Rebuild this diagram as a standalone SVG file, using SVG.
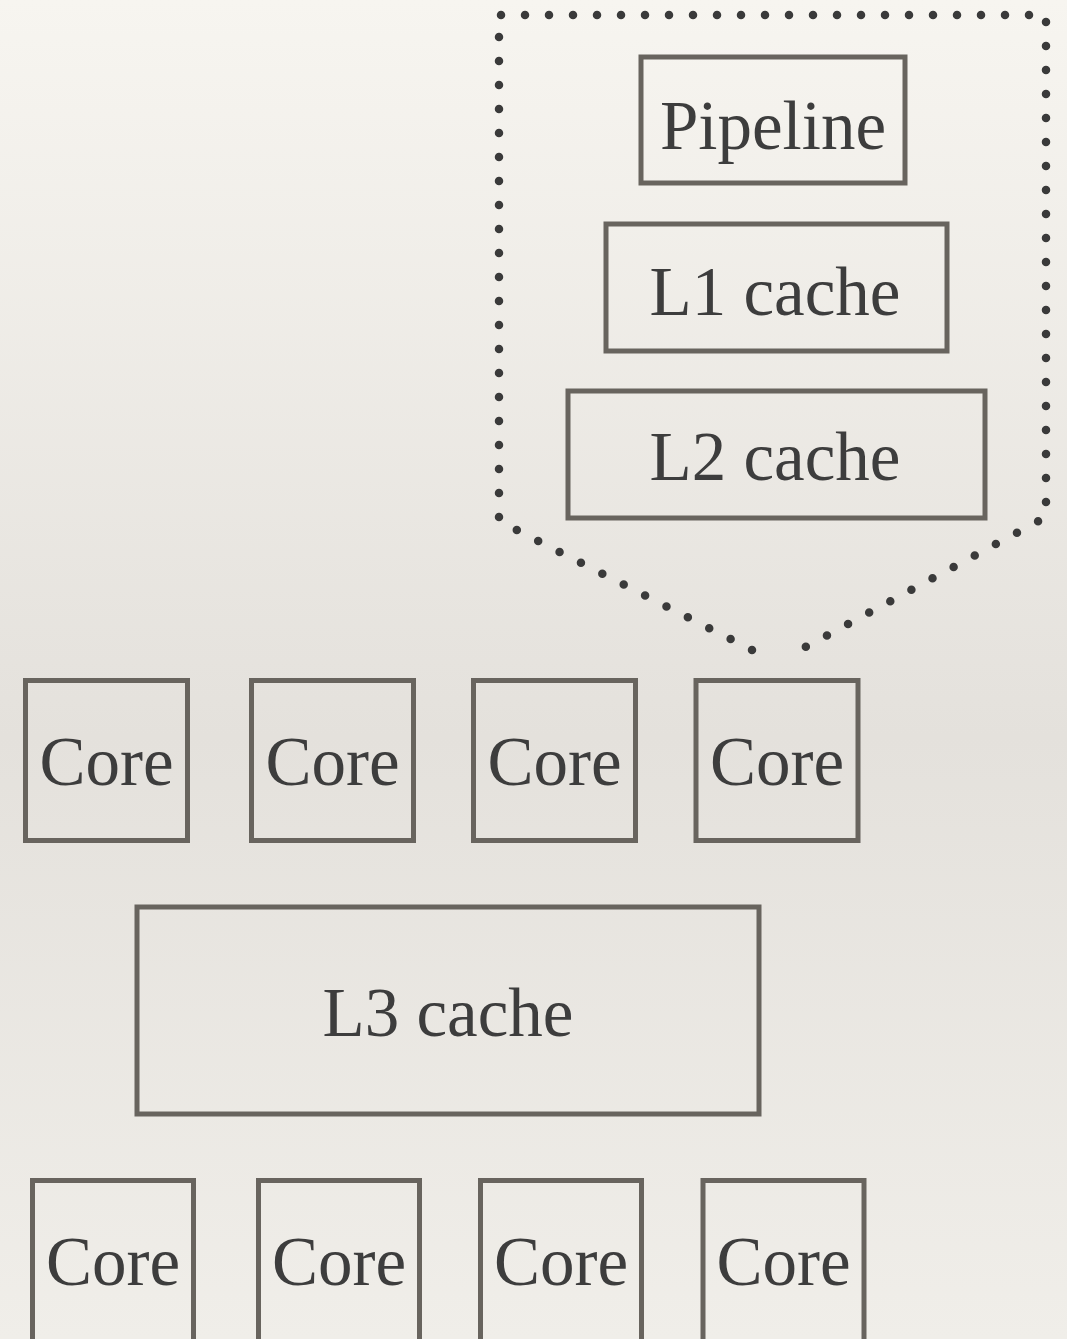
<svg xmlns="http://www.w3.org/2000/svg" width="1067" height="1339" viewBox="0 0 1067 1339">
<defs>
<linearGradient id="bg" x1="0" y1="0" x2="0" y2="1">
<stop offset="0" stop-color="#f7f5f0"/>
<stop offset="0.55" stop-color="#e4e1dc"/>
<stop offset="1" stop-color="#f0eee9"/>
</linearGradient>
<style>
.box{fill:none;stroke:#68645e;stroke-width:5}
.lbl{font-family:"Liberation Serif","Times New Roman",serif;font-size:69px;fill:#3d3d3d;text-anchor:middle}
.dots{fill:none;stroke:#3a3a3a;stroke-width:8.5;stroke-linecap:round;stroke-dasharray:0 24}
</style>
</defs>
<rect x="0" y="0" width="1067" height="1339" fill="url(#bg)"/>
<g id="connectors">
<path class="dots" d="M 752 650 L 499 521 L 499 15 L 1046 15 L 1046 517 L 800 650"/>
</g>
<g id="pipeline"><rect class="box" x="641" y="57" width="264" height="126"/><text class="lbl" x="773" y="149">Pipeline</text></g>
<g id="l1"><rect class="box" x="606" y="224" width="341" height="127"/><text class="lbl" x="775" y="315">L1 cache</text></g>
<g id="l2"><rect class="box" x="568" y="391" width="417" height="127"/><text class="lbl" x="775" y="480">L2 cache</text></g>
<g id="core1"><rect class="box" x="25.5" y="680.5" width="162" height="160"/><text class="lbl" x="106.5" y="785">Core</text></g>
<g id="core2"><rect class="box" x="251.5" y="680.5" width="162" height="160"/><text class="lbl" x="332.5" y="785">Core</text></g>
<g id="core3"><rect class="box" x="473.5" y="680.5" width="162" height="160"/><text class="lbl" x="554.5" y="785">Core</text></g>
<g id="core4"><rect class="box" x="696" y="680.5" width="162" height="160"/><text class="lbl" x="777" y="785">Core</text></g>
<g id="l3"><rect class="box" x="137" y="907" width="622" height="207"/><text class="lbl" x="448" y="1036">L3 cache</text></g>
<g id="core5"><rect class="box" x="32.5" y="1180.5" width="161" height="162"/><text class="lbl" x="113" y="1285">Core</text></g>
<g id="core6"><rect class="box" x="258.5" y="1180.5" width="161" height="162"/><text class="lbl" x="339" y="1285">Core</text></g>
<g id="core7"><rect class="box" x="480.5" y="1180.5" width="161" height="162"/><text class="lbl" x="561" y="1285">Core</text></g>
<g id="core8"><rect class="box" x="703" y="1180.5" width="161" height="162"/><text class="lbl" x="783.5" y="1285">Core</text></g>
</svg>
